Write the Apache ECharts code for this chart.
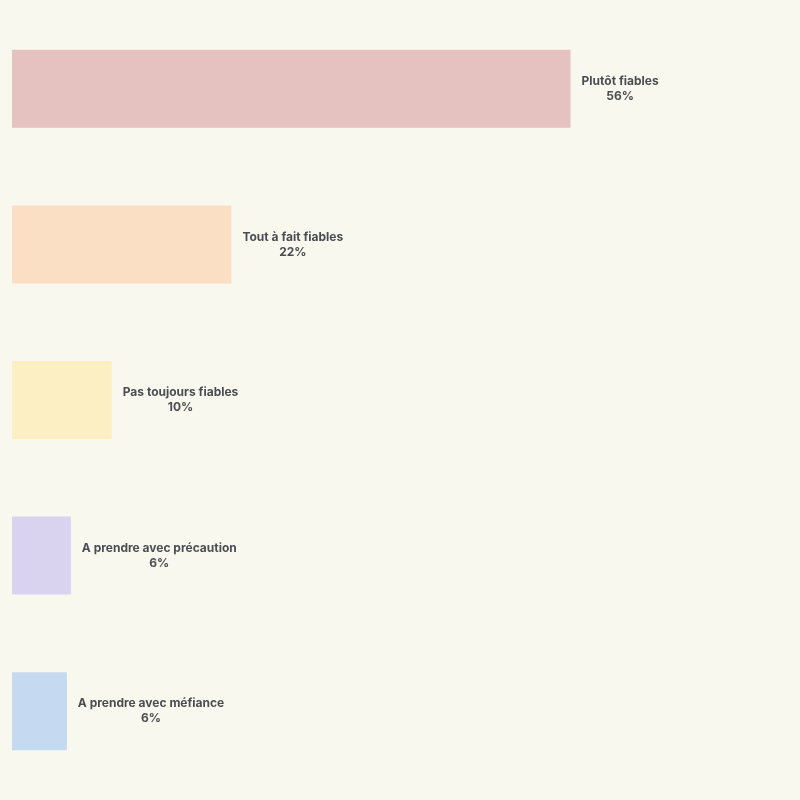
<!DOCTYPE html>
<html>
<head>
<meta charset="utf-8">
<script src="https://cdn.jsdelivr.net/npm/echarts@6/dist/echarts.min.js"></script>
<style>
  html, body { margin: 0; padding: 0; background: #f9f8ef; }
  #chart { width: 800px; height: 800px; }
</style>
</head>
<body>
<div id="chart"></div>
<script>
// Chart data
const categories = ['Plutôt fiables', 'Tout à fait fiables', 'Pas toujours fiables', 'A prendre avec précaution', 'A prendre avec méfiance'];
const values = [56, 22, 10, 5.9, 5.5];
const valueLabels = ['56%', '22%', '10%', '6%', '6%'];
const colors = ['#e5c1c0', '#fbdfc4', '#fcefc4', '#d9d3ef', '#c5d9f1'];

const labelText = { align: 'center', fontWeight: 'bold', fontSize: 12, color: '#4a4e52', fontFamily: 'Inter, sans-serif', lineHeight: 15 };

const chart = echarts.init(document.getElementById('chart'));

chart.setOption({
    backgroundColor: '#f9f8ef',
    grid: { left: 12, right: 0, top: 11, height: 778 },
    xAxis: { type: 'value', min: 0, max: 79, show: false },
    yAxis: { type: 'category', data: categories, inverse: true, show: false },
    series: [{
        type: 'bar',
        barWidth: 78,
        data: values.map((v, i) => ({ value: v, itemStyle: { color: colors[i] } })),
        label: {
            show: true,
            position: 'right',
            distance: 11,
            formatter: p => '{a|' + categories[p.dataIndex] + '}\n{a|' + valueLabels[p.dataIndex] + '}',
            rich: { a: labelText }
        },
        animation: false
    }]
});
</script>
</body>
</html>
